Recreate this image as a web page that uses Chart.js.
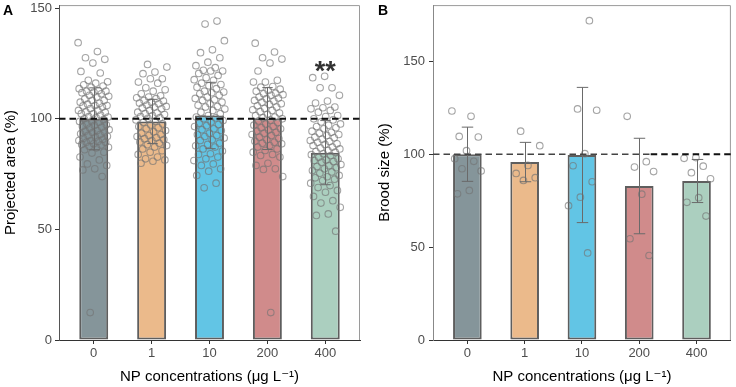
<!DOCTYPE html>
<html>
<head>
<meta charset="utf-8">
<script src="https://cdn.jsdelivr.net/npm/chart.js@4.4.1/dist/chart.umd.min.js"></script>
<style>
  html, body { margin: 0; padding: 0; background: #fff; }
  #wrap { position: relative; width: 736px; height: 387px; }
  .panel { position: absolute; top: 0; width: 368px; height: 387px; }
</style>
</head>
<body>
<div id="wrap">
  <div class="panel" style="left:0"><canvas id="chartA" width="368" height="387"></canvas></div>
  <div class="panel" style="left:368px"><canvas id="chartB" width="368" height="387"></canvas></div>
</div>
<script>
// categories / tick labels
const categories = ['0', '1', '10', '200', '400'];
const ticksA = [0, 50, 100, 150];
const ticksB = [0, 50, 100, 150];

// panel A: projected area (%)
const areaMean = [100, 98.8, 101.5, 100.1, 84.7];
const areaSD = [14, 10, 15, 14, 14.5];
const area0 = [134.4, 130.4, 127.6, 126.9, 125.2, 121.4, 120.7, 117.4, 116.7, 116.1, 115.4, 114.8, 114.3, 113.6,
  112.8, 112.5, 112.5, 112.1, 111.8, 111.3, 110.6, 110.2, 109.8, 109, 108.3, 108.3, 107.5, 107, 106.6, 106, 106,
  105.8, 105.3, 104.6, 103.8, 103.8, 103.1, 102.9, 102.3, 102.3, 101.7, 101, 100.8, 100.5, 100, 99.6, 99, 98.8,
  98.4, 97.7, 97.3, 97, 96.6, 96.2, 95.8, 95.1, 94.7, 94.4, 94, 93.8, 93.2, 92.9, 92.5, 92.1, 91.7, 91.2, 90.7,
  90.2, 90.2, 89.9, 89.4, 89.4, 88.7, 88.4, 88.1, 87.6, 87.1, 86.9, 86, 84.9, 84.5, 82.7, 81.4, 79.6, 78.9, 77.4,
  76.9, 73.9, 12.4];
const area1 = [124.6, 123.4, 121.1, 120.4, 118.1, 118.1, 116.6, 116.1, 114, 113.1, 112.5, 111.3, 110.4, 109.8,
  109.5, 109.1, 108.3, 108, 107.5, 107.1, 106.8, 106.2, 105.6, 105.3, 104.9, 104.5, 103.8, 103, 102.6, 102.3, 101.9,
  101.5, 101, 100.5, 100.2, 99.5, 98.9, 98.4, 97.7, 97.2, 96.5, 96, 95.5, 94.7, 94.2, 93.5, 92.9, 92.4, 92, 91.4,
  91, 90.6, 90.2, 89.5, 89, 88.3, 87.9, 87.2, 86.4, 85.6, 84.9, 83.9, 82.7, 81.9, 81.4, 80.8, 79.9];
const area10 = [144.2, 142.8, 135.3, 131.2, 129.9, 127.6, 125.6, 124, 123.1, 121.9, 121.6, 121.6, 120.5, 119.6,
  118.6, 117.7, 117.4, 116.1, 115.5, 114.9, 114.3, 113.6, 112.5, 112.1, 111.8, 111.3, 110.6, 109.8, 109.2, 108.6,
  108.3, 107.5, 106.8, 106.1, 105.6, 105.3, 104.4, 103.8, 103, 102.3, 101.5, 100.8, 100.4, 100, 99.2, 98.6, 98,
  97.4, 96.9, 96.5, 95.5, 95.1, 94.7, 93.5, 92.9, 92.4, 92, 91.3, 90.5, 90.2, 89, 88.4, 87.8, 87.2, 86.4, 85.4,
  84.2, 83.9, 82.7, 81.9, 81.1, 79.6, 78.9, 77.4, 76.3, 74.4, 70.9, 68.8];
const area200 = [134.2, 130.2, 127.6, 127, 125.2, 121.6, 117.4, 116.6, 116.6, 114.6, 114.3, 113.4, 112.8, 112.5,
  111.6, 111.3, 110.9, 110.6, 109.8, 109.4, 109.1, 108.3, 108, 107.5, 106.8, 106.5, 105.9, 105.3, 104.7, 104.1,
  103.8, 103.2, 102.6, 102, 101.5, 100.8, 100.5, 100, 99.4, 99, 98.3, 97.7, 97.1, 96.5, 96, 95.5, 94.9, 94.4, 93.9,
  93.5, 92.9, 92.5, 91.7, 91.1, 90.5, 89.9, 89.4, 89, 88.7, 87.9, 87.2, 86.4, 85.7, 84.9, 83.9, 83.4, 82.7, 79.9,
  78.9, 77.4, 77.1, 73.9, 12.4];
const area400 = [119.2, 118.6, 114, 114, 110.6, 108, 107.1, 105.3, 105, 104.5, 103.8, 103, 101.5, 101, 100, 99.5,
  98.6, 97.7, 97.1, 96.5, 95.9, 95.5, 94.4, 93.9, 93.5, 92.9, 92.5, 91.7, 91.4, 90.8, 90.2, 89.7, 89.4, 88.7, 88.4,
  87.9, 87.2, 86.8, 86.4, 85.7, 85.2, 84.9, 84.2, 83.8, 83.4, 82.6, 81.9, 81.4, 81.1, 80.7, 80.4, 79.3, 78.8, 78.4,
  77.9, 77.4, 76.6, 76, 75.4, 74.4, 73.8, 73.3, 72.7, 72.1, 70.9, 69.8, 68.9, 67.6, 66.8, 64.9, 63, 61.9, 60, 57,
  56.3, 49.2];

// panel B: brood size (%)
const broodMean = [100, 95.8, 99.6, 82.9, 85.6];
const broodSD = [14.6, 10.6, 36.4, 25.7, 11.6];
const brood0 = [123.3, 120.4, 109.6, 109.3, 101.9, 97.6, 96.2, 92.2, 91, 80.5, 78.7];
const brood1 = [112.4, 104.6, 94, 89.7, 87.4, 85.9];
const brood10 = [171.9, 124.4, 123.7, 100.3, 93.8, 85.2, 76.9, 72.3, 46.9];
const brood200 = [120.4, 96, 93.1, 90.7, 78.5, 54.5, 45.5];
const brood400 = [98.2, 97.8, 93.6, 90.1, 86.8, 76.6, 74.1, 66.7];

const FONT = '"Liberation Sans", Arial, "DejaVu Sans", sans-serif';
const barColors = ['#85959a', '#ebba8b', '#62c5e5', '#d08b8b', '#abcfbf'];

// spread points sideways around their group (deterministic jitter)
function jitterPoints(groups, spread) {
  const pts = [];
  groups.forEach((vals, g) => {
    vals.forEach((v, i) => {
      const f = (i * 0.618034 + g * 0.37) % 1;
      pts.push({ x: g + (f - 0.5) * 2 * spread, y: v });
    });
  });
  return pts;
}

const panelPlugin = {
  id: 'panel',
  beforeDraw(chart, args, o) {
    const { ctx, chartArea: a } = chart;
    ctx.save();
    ctx.strokeStyle = '#9a9a9a';
    ctx.lineWidth = 1;
    ctx.beginPath();
    ctx.moveTo(a.left, a.top + 0.5);
    ctx.lineTo(a.right - 0.5, a.top + 0.5);
    ctx.lineTo(a.right - 0.5, a.bottom);
    ctx.stroke();
    ctx.restore();
  },
  afterDatasetsDraw(chart, args, o) {
    const { ctx } = chart;
    const xs = chart.scales.x, ys = chart.scales.y;
    ctx.save();
    // error bars
    ctx.strokeStyle = '#6a6a6a';
    ctx.lineWidth = 1;
    o.means.forEach((m, i) => {
      const x = Math.round(xs.getPixelForValue(i)) + 0.5;
      const hw = xs.getPixelForValue(i + o.cap) - xs.getPixelForValue(i);
      const yTop = ys.getPixelForValue(m + o.sd[i]);
      const yBot = ys.getPixelForValue(m - o.sd[i]);
      ctx.beginPath();
      ctx.moveTo(x, yTop); ctx.lineTo(x, yBot);
      ctx.moveTo(x - hw, yTop); ctx.lineTo(x + hw, yTop);
      ctx.moveTo(x - hw, yBot); ctx.lineTo(x + hw, yBot);
      ctx.stroke();
    });
    // reference line at 100
    const y100 = ys.getPixelForValue(100);
    ctx.setLineDash([6.5, 4]);
    o.refLine.forEach(seg => {
      ctx.strokeStyle = seg.color;
      ctx.lineWidth = seg.width;
      ctx.beginPath();
      ctx.moveTo(xs.getPixelForValue(seg.from), y100);
      ctx.lineTo(xs.getPixelForValue(seg.to), y100);
      ctx.stroke();
    });
    ctx.setLineDash([]);
    // significance marks
    if (o.stars) {
      ctx.fillStyle = '#333';
      ctx.font = 'bold 27px ' + FONT;
      ctx.textAlign = 'center';
      ctx.textBaseline = 'middle';
      ctx.fillText(o.stars.text, xs.getPixelForValue(o.stars.x), ys.getPixelForValue(o.stars.y));
    }
    // panel letter
    ctx.fillStyle = '#000';
    ctx.font = 'bold 14px ' + FONT;
    ctx.textAlign = 'left';
    ctx.textBaseline = 'alphabetic';
    ctx.fillText(o.letter, o.letterX, 14.5);
    ctx.restore();
  }
};

function makeChart(id, cfg) {
  return new Chart(document.getElementById(id), {
    type: 'bar',
    data: {
      datasets: [
        {
          type: 'bar',
          data: cfg.means.map((m, i) => ({ x: i, y: m })),
          backgroundColor: barColors,
          borderColor: '#5e5e5e',
          borderWidth: 2,
          borderSkipped: false,
          categoryPercentage: 1,
          barPercentage: 0.5,
          order: 2
        },
        {
          type: 'scatter',
          data: jitterPoints(cfg.points, 0.27),
          pointStyle: 'circle',
          pointRadius: 3.3,
          pointBackgroundColor: 'rgba(0,0,0,0)',
          pointBorderColor: 'rgba(115,115,115,0.65)',
          pointBorderWidth: 1.1,
          order: 1
        }
      ]
    },
    options: {
      responsive: false,
      animation: false,
      layout: { padding: { top: 5, right: cfg.padRight, left: 0, bottom: 0 } },
      plugins: {
        legend: { display: false },
        tooltip: { enabled: false },
        panel: {
          means: cfg.means, sd: cfg.sd, cap: cfg.cap,
          refLine: cfg.refLine, stars: cfg.stars,
          letter: cfg.letter, letterX: cfg.letterX
        }
      },
      scales: {
        x: {
          type: 'linear',
          min: -0.6,
          max: 4.6,
          offset: false,
          afterBuildTicks: s => { s.ticks = categories.map((c, i) => ({ value: i })); },
          afterFit: s => { s.height = 47; s.paddingLeft = 0; s.paddingRight = 0; },
          ticks: {
            callback: (v, i) => categories[i],
            color: '#4d4d4d',
            font: { size: 13, family: FONT },
            padding: 2,
            maxRotation: 0,
            autoSkip: false
          },
          grid: { display: true, offset: false, drawOnChartArea: false, drawTicks: true, tickLength: 4, color: '#333' },
          border: { display: true, color: '#333', width: 1 },
          title: {
            display: true,
            text: 'NP concentrations (μg L⁻¹)',
            color: '#000',
            font: { size: 15, family: FONT },
            padding: { top: 0, bottom: 1 }
          }
        },
        y: {
          type: 'linear',
          min: 0,
          max: cfg.yMax,
          afterBuildTicks: s => { s.ticks = cfg.yTicks.map(v => ({ value: v })); },
          afterFit: s => { s.width = cfg.yWidth; s.paddingTop = 0; s.paddingBottom = 0; },
          ticks: { color: '#4d4d4d', font: { size: 13, family: FONT }, padding: cfg.tickPad },
          grid: { display: true, drawOnChartArea: false, drawTicks: true, tickLength: 4, color: '#333' },
          border: { display: true, color: cfg.axisColor, width: 1 },
          title: {
            display: true,
            text: cfg.yTitle,
            color: '#000',
            font: { size: 15, family: FONT },
            padding: { top: cfg.titlePad, bottom: 0 }
          }
        }
      }
    },
    plugins: [panelPlugin]
  });
}

makeChart('chartA', {
  means: areaMean, sd: areaSD, cap: 0.09,
  points: [area0, area1, area10, area200, area400],
  yMax: 151.4, yTicks: ticksA, yWidth: 59, padRight: 8, tickPad: 3, titlePad: 2,
  axisColor: '#555',
  yTitle: 'Projected area (%)',
  refLine: [{ from: -0.6, to: 4.6, color: '#111', width: 2 }],
  stars: { text: '**', x: 4, y: 121 },
  letter: 'A', letterX: 3
});

makeChart('chartB', {
  means: broodMean, sd: broodSD, cap: 0.1,
  points: [brood0, brood1, brood10, brood200, brood400],
  yMax: 180.3, yTicks: ticksB, yWidth: 65, padRight: 2, tickPad: 4, titlePad: 8,
  axisColor: '#888',
  yTitle: 'Brood size (%)',
  refLine: [
    { from: -0.6, to: 3.2, color: '#444', width: 1.3 },
    { from: 3.2, to: 4.6, color: '#111', width: 2 }
  ],
  stars: null,
  letter: 'B', letterX: 10
});
</script>
</body>
</html>
